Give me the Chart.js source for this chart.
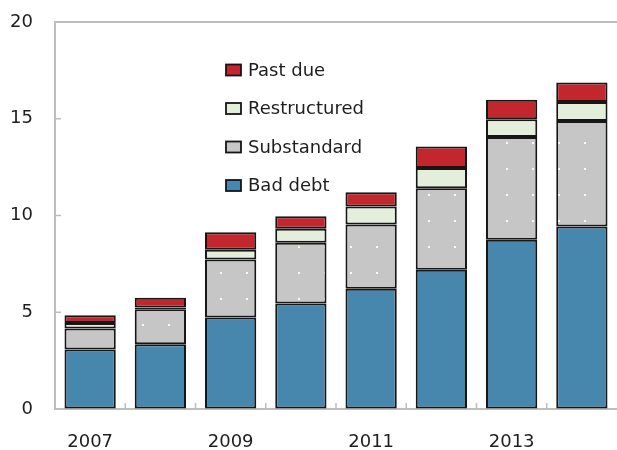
<!DOCTYPE html>
<html>
<head>
<meta charset="utf-8">
<script src="https://cdn.jsdelivr.net/npm/chart.js@4/dist/chart.umd.min.js"></script>
<style>
  html, body { margin: 0; padding: 0; background: #fff; }
  #wrap { width: 617px; height: 450px; }
</style>
</head>
<body>
<div id="wrap"><canvas id="c" width="617" height="450"></canvas></div>
<script>
// Non-performing loans by category, stacked per year
const years = ['2007', '2008', '2009', '2010', '2011', '2012', '2013', '2014'];
const xTickLabels = ['2007', '', '2009', '', '2011', '', '2013', ''];
const yTicks = [0, 5, 10, 15, 20];

const badDebt      = [3.08, 3.35, 4.73, 5.45, 6.22, 7.20, 8.75, 9.43];
const substandard  = [1.08, 1.80, 3.00, 3.14, 3.32, 4.21, 5.31, 5.45];
const restructured = [0.29, 0.10, 0.50, 0.72, 0.92, 1.05, 0.92, 0.98];
const pastDue      = [0.40, 0.50, 0.90, 0.65, 0.74, 1.11, 1.00, 1.01];

const FONT = '"DejaVu Sans", sans-serif';
const TEXT = '#1e1e1e';
const AXIS = '#bdbdbd';
const EDGE = '#161616';

// grey fill with a sparse grid of white dots
function dottedFill(base) {
  const p = document.createElement('canvas');
  p.width = 26; p.height = 26;
  const g = p.getContext('2d');
  g.fillStyle = base;
  g.fillRect(0, 0, 26, 26);
  g.fillStyle = 'rgba(255,255,255,0.9)';
  g.fillRect(12, 12, 2, 2);
  return g.createPattern(p, 'repeat');
}

const ctx = document.getElementById('c').getContext('2d');

function series(label, data, fill, legendFill) {
  return {
    label, data,
    backgroundColor: fill,
    legendFill: legendFill || fill,
    borderColor: EDGE,
    borderWidth: 2,
    borderSkipped: false,
    categoryPercentage: 1,
    barPercentage: 0.73
  };
}

// frame top line, inward tick marks and the in-plot legend
const decorations = {
  id: 'decorations',
  afterDatasetsDraw(chart) {
    const { ctx, chartArea: a, scales } = chart;
    ctx.save();
    ctx.strokeStyle = AXIS;
    ctx.lineWidth = 2;
    ctx.beginPath();
    ctx.moveTo(a.left - 1, a.top);
    ctx.lineTo(a.right, a.top);
    ctx.stroke();

    ctx.lineWidth = 1.5;
    ctx.beginPath();
    yTicks.forEach(v => {
      if (v === 0) return;
      const y = scales.y.getPixelForValue(v);
      ctx.moveTo(a.left, y);
      ctx.lineTo(a.left + 6, y);
    });
    const half = (scales.x.getPixelForValue(1) - scales.x.getPixelForValue(0)) / 2;
    for (let i = 0; i < years.length - 1; i++) {
      const x = scales.x.getPixelForValue(i) + half;
      ctx.moveTo(x, a.bottom);
      ctx.lineTo(x, a.bottom - 6);
    }
    ctx.stroke();

    // legend, top series first
    const ds = chart.data.datasets.slice().reverse();
    const bx = 226, tx = 248, y0 = 70, step = 38.5;
    ctx.font = '18px ' + FONT;
    ctx.textBaseline = 'middle';
    ctx.textAlign = 'left';
    ds.forEach((d, i) => {
      const cy = y0 + i * step;
      ctx.fillStyle = d.legendFill;
      ctx.fillRect(bx, cy - 5.5, 15, 11);
      ctx.strokeStyle = EDGE;
      ctx.lineWidth = 1.8;
      ctx.strokeRect(bx, cy - 5.5, 15, 11);
      ctx.fillStyle = TEXT;
      ctx.fillText(d.label, tx, cy + 1);
    });
    ctx.restore();
  }
};

new Chart(ctx, {
  type: 'bar',
  data: {
    labels: years,
    datasets: [
      series('Bad debt', badDebt, '#4787ad'),
      series('Substandard', substandard, dottedFill('#c6c6c6'), '#c6c6c6'),
      series('Restructured', restructured, '#e3eedb'),
      series('Past due', pastDue, '#c1272d')
    ]
  },
  options: {
    responsive: false,
    devicePixelRatio: 1,
    animation: false,
    layout: { padding: { top: 22, right: 0, left: 0, bottom: 0 } },
    plugins: { legend: { display: false }, tooltip: { enabled: false } },
    scales: {
      x: {
        stacked: true,
        grid: { display: true, drawOnChartArea: false, drawTicks: false },
        border: { display: true, color: AXIS, width: 2 },
        ticks: {
          autoSkip: false,
          maxRotation: 0,
          padding: 23,
          color: TEXT,
          font: { family: FONT, size: 18 },
          callback: (v, i) => xTickLabels[i]
        },
        afterFit: s => { s.height = 41; }
      },
      y: {
        stacked: true,
        min: 0,
        max: 20,
        afterBuildTicks: s => { s.ticks = yTicks.map(v => ({ value: v })); },
        grid: { display: true, drawOnChartArea: false, drawTicks: false },
        border: { display: true, color: AXIS, width: 2 },
        ticks: {
          padding: 22,
          color: TEXT,
          font: { family: FONT, size: 18 }
        },
        afterFit: s => { s.width = 55; s.paddingTop = 0; s.paddingBottom = 0; }
      }
    }
  },
  plugins: [decorations]
});
</script>
</body>
</html>
